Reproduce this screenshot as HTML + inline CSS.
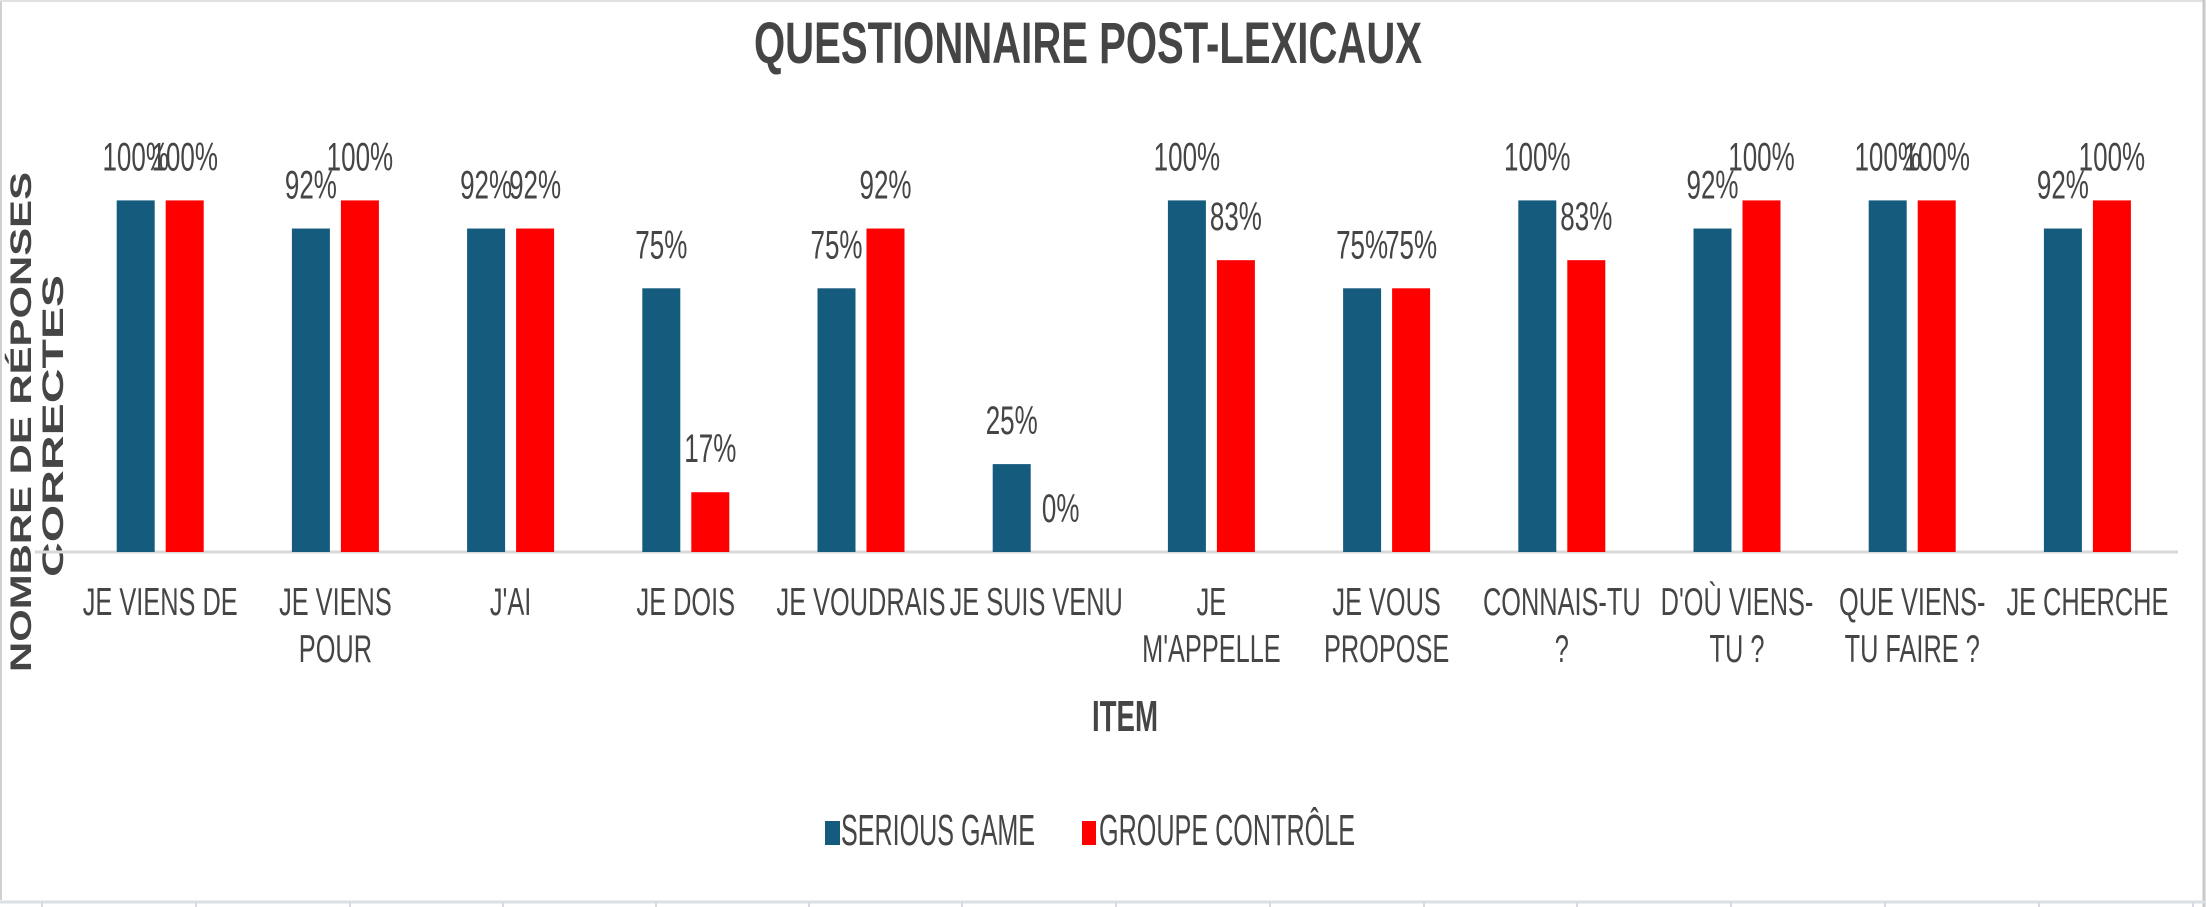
<!DOCTYPE html>
<html><head><meta charset="utf-8">
<style>
html,body{margin:0;padding:0;background:#fff;}
svg{display:block;}
text{font-family:"Liberation Sans",sans-serif;fill:#454545;}
</style></head>
<body>
<svg width="2206" height="907" viewBox="0 0 2206 907" xmlns="http://www.w3.org/2000/svg">
<rect x="0" y="0" width="2206" height="907" fill="#fff"/>
<line x1="1" y1="0" x2="1" y2="900" stroke="#d0d0d0" stroke-width="2"/>
<line x1="0" y1="1" x2="2204" y2="1" stroke="#e0e0e0" stroke-width="2"/>
<line x1="2204" y1="0" x2="2204" y2="907" stroke="#c8c8c8" stroke-width="3"/>
<!-- bottom grid -->
<line x1="0" y1="902" x2="2206" y2="902" stroke="#dcdfe6" stroke-width="3"/>
<g stroke="#d6dae4" stroke-width="2">
<line x1="42" y1="902" x2="42" y2="907"/><line x1="196" y1="902" x2="196" y2="907"/><line x1="350" y1="902" x2="350" y2="907"/><line x1="503" y1="902" x2="503" y2="907"/><line x1="656" y1="902" x2="656" y2="907"/><line x1="809" y1="902" x2="809" y2="907"/><line x1="962" y1="902" x2="962" y2="907"/><line x1="1116" y1="902" x2="1116" y2="907"/><line x1="1270" y1="902" x2="1270" y2="907"/><line x1="1424" y1="902" x2="1424" y2="907"/><line x1="1577" y1="902" x2="1577" y2="907"/><line x1="1731" y1="902" x2="1731" y2="907"/><line x1="1885" y1="902" x2="1885" y2="907"/><line x1="2039" y1="902" x2="2039" y2="907"/><line x1="2193" y1="902" x2="2193" y2="907"/>
</g>
<!-- title -->
<text x="754" y="63" font-size="58" font-weight="bold" textLength="668" lengthAdjust="spacingAndGlyphs" fill="#404040">QUESTIONNAIRE POST-LEXICAUX</text>
<!-- y title -->
<text transform="translate(31,422) rotate(-90)" x="-250" y="0" font-size="30" font-weight="bold" textLength="500" lengthAdjust="spacingAndGlyphs" fill="#404040">NOMBRE DE RÉPONSES</text>
<text transform="translate(63,426) rotate(-90)" x="-151" y="0" font-size="30" font-weight="bold" textLength="302" lengthAdjust="spacingAndGlyphs" fill="#404040">CORRECTES</text>
<!-- axis -->
<line x1="35" y1="552" x2="2178" y2="552" stroke="#d9d9d9" stroke-width="3"/>
<g id="bars"></g>
<g id="labels"></g>
<!-- ITEM -->
<text x="1092" y="731" font-size="44" font-weight="bold" textLength="66" lengthAdjust="spacingAndGlyphs" fill="#404040">ITEM</text>
<!-- legend -->
<rect x="825" y="821" width="15" height="24" fill="#155b7e"/>
<text x="841" y="845" font-size="44" textLength="194" lengthAdjust="spacingAndGlyphs">SERIOUS GAME</text>
<rect x="1082" y="821" width="14" height="24" fill="#ff0000"/>
<text x="1099" y="845" font-size="44" textLength="256" lengthAdjust="spacingAndGlyphs">GROUPE CONTRÔLE</text>
</svg>
<script>
(function(){
var ns="http://www.w3.org/2000/svg";
var svg=document.querySelector('svg');
var sg=[100,92,92,75,75,25,100,75,100,92,100,92];
var gc=[100,100,92,17,92,0,83,75,83,100,100,100];
var labs=[["JE VIENS DE"],["JE VIENS","POUR"],["J'AI"],["JE DOIS"],["JE VOUDRAIS"],["JE SUIS VENU"],["JE","M'APPELLE"],["JE VOUS","PROPOSE"],["CONNAIS-TU","?"],["D'OÙ VIENS-","TU ?"],["QUE VIENS-","TU FAIRE ?"],["JE CHERCHE"]];
var base=552, k=3.516, bw=38, gap=11;
function rect(x,y,w,h,c){var r=document.createElementNS(ns,'rect');r.setAttribute('x',x);r.setAttribute('y',y);r.setAttribute('width',w);r.setAttribute('height',h);r.setAttribute('fill',c);svg.appendChild(r);}
function txt(cx,y,s,fs){var g=document.createElementNS(ns,'g');g.setAttribute('transform','translate('+cx+','+y+') scale(0.65,1)');var t=document.createElementNS(ns,'text');t.setAttribute('x',0);t.setAttribute('y',0);t.setAttribute('font-size',fs);t.setAttribute('text-anchor','middle');t.textContent=s;g.appendChild(t);svg.appendChild(g);}
for(var i=0;i<12;i++){
 var x0=116.7+175.2*i;
 var h1=sg[i]*k, h2=gc[i]*k;
 rect(x0,base-h1,bw,h1,'#155b7e');
 if(h2>0) rect(x0+bw+gap,base-h2,bw,h2,'#ff0000');
 txt(x0+bw/2,base-h1-30,sg[i]+'%',40);
 txt(x0+bw+gap+bw/2,base-h2-30,gc[i]+'%',40);
 var c=x0+bw+gap/2;
 txt(c,615,labs[i][0],39);
 if(labs[i][1]) txt(c,662,labs[i][1],39);
}
})();
</script>
</body></html>
